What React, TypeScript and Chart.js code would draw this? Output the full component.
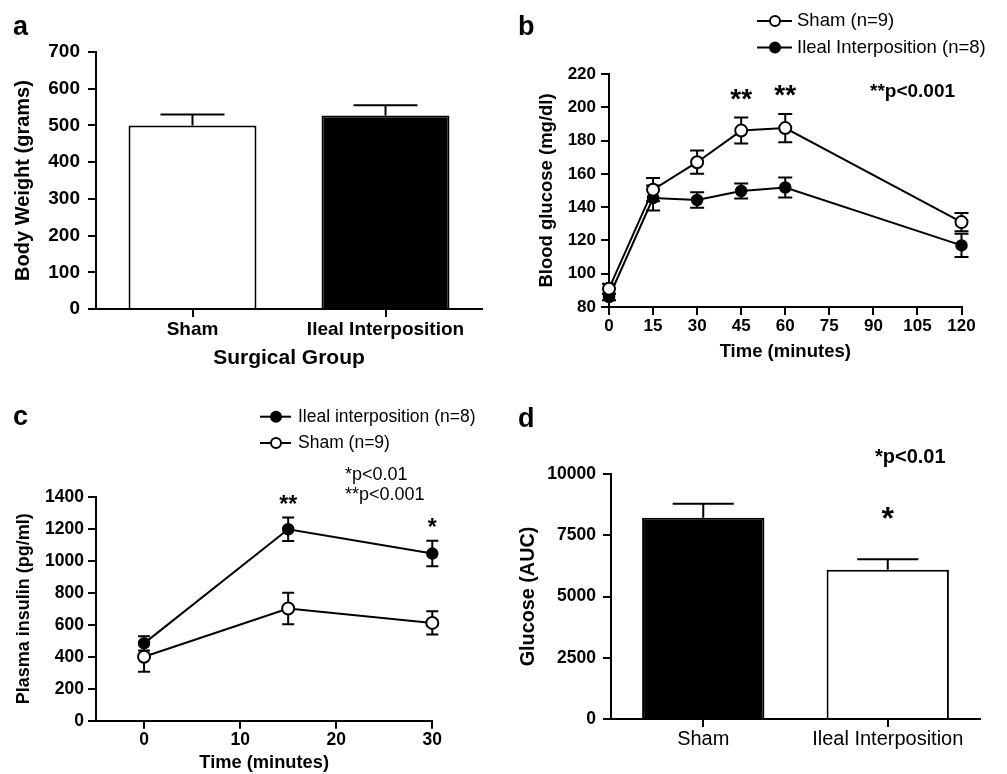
import { useEffect, useRef } from "react";
import { Chart, registerables } from "chart.js";
Chart.register(...registerables);

const FONT = "'Liberation Sans', Arial, Helvetica, sans-serif";

// ---- Panel a: body weight ----
const weightGroups = ["Sham", "Ileal Interposition"];
const weightValues = [500, 527];
const weightErrors = [30, 28];
const weightTicks = [0, 100, 200, 300, 400, 500, 600, 700];

// ---- Panel b: blood glucose ----
const glucoseTimes = [0, 15, 30, 45, 60, 120];
const glucoseSham = [91, 150.5, 167, 186, 187.5, 131];
const glucoseShamErr = [3, 7, 7, 7.8, 8.5, 5.5];
const glucoseIleal = [86, 145.5, 144.3, 149.7, 151.8, 117];
const glucoseIlealErr = [2, 7.5, 4.6, 4.5, 6, 7];
const glucoseStars = ["", "", "", "**", "**", ""];
const glucoseXTicks = [0, 15, 30, 45, 60, 75, 90, 105, 120];
const glucoseYTicks = [80, 100, 120, 140, 160, 180, 200, 220];

// ---- Panel c: plasma insulin ----
const insulinTimes = [0, 15, 30];
const insulinIleal = [484, 1198, 1046];
const insulinIlealErr = [45, 73, 80];
const insulinSham = [400, 702, 612];
const insulinShamErr = [94, 99, 73];
const insulinStars = ["", "**", "*"];
const insulinXTicks = [0, 10, 20, 30];
const insulinYTicks = [0, 200, 400, 600, 800, 1000, 1200, 1400];

// ---- Panel d: glucose AUC ----
const aucGroups = ["Sham", "Ileal Interposition"];
const aucValues = [8216, 6094];
const aucErrors = [572, 424];
const aucStars = ["", "*"];
const aucTicks = [0, 2500, 5000, 7500, 10000];

function drawErrors(chart: any) {
  const ctx = chart.ctx;
  chart.data.datasets.forEach((ds: any, i: number) => {
    if (!ds.errors) return;
    const meta = chart.getDatasetMeta(i);
    const yScale = chart.scales[meta.yAxisID];
    meta.data.forEach((el: any, j: number) => {
      const raw = ds.data[j];
      const v = typeof raw === "number" ? raw : raw.y;
      const e = ds.errors[j];
      const top = yScale.getPixelForValue(v + e);
      const bot = ds.errorUpOnly ? yScale.getPixelForValue(v) : yScale.getPixelForValue(v - e);
      const half = ds.capHalf != null ? ds.capHalf : el.width / 4;
      ctx.save();
      ctx.strokeStyle = "#000";
      ctx.lineWidth = 2;
      ctx.beginPath();
      ctx.moveTo(el.x, top);
      ctx.lineTo(el.x, bot);
      ctx.moveTo(el.x - half, top);
      ctx.lineTo(el.x + half, top);
      if (!ds.errorUpOnly) {
        ctx.moveTo(el.x - half, bot);
        ctx.lineTo(el.x + half, bot);
      }
      ctx.stroke();
      ctx.restore();
    });
  });
}

const errorBarsPlugin = {
  id: "errorBars",
  beforeDatasetsDraw(chart: any, _a: any, opts: any) {
    if (opts.before) drawErrors(chart);
  },
  afterDatasetsDraw(chart: any, _a: any, opts: any) {
    if (!opts.before) drawErrors(chart);
  },
};

const starPlugin = {
  id: "stars",
  afterDatasetsDraw(chart: any, _a: any, opts: any) {
    if (!opts.labels) return;
    const ctx = chart.ctx;
    const ds = chart.data.datasets[opts.datasetIndex];
    const meta = chart.getDatasetMeta(opts.datasetIndex);
    const yScale = chart.scales[meta.yAxisID];
    opts.labels.forEach((lab: string, j: number) => {
      if (!lab) return;
      const raw = ds.data[j];
      const v = typeof raw === "number" ? raw : raw.y;
      const top = yScale.getPixelForValue(v + ds.errors[j]);
      ctx.save();
      ctx.fillStyle = "#000";
      ctx.font = `bold ${opts.size}px ${FONT}`;
      ctx.textAlign = "center";
      ctx.textBaseline = "alphabetic";
      ctx.fillText(lab, meta.data[j].x, top - opts.offset);
      ctx.restore();
    });
  },
};

const textPlugin = {
  id: "texts",
  afterDraw(chart: any, _a: any, opts: any) {
    const ctx = chart.ctx;
    (opts.items || []).forEach((it: any) => {
      ctx.save();
      ctx.fillStyle = "#000";
      ctx.font = `${it.weight || "normal"} ${it.size}px ${FONT}`;
      ctx.textAlign = "left";
      ctx.textBaseline = "alphabetic";
      ctx.fillText(it.text, it.x, it.y);
      ctx.restore();
    });
  },
};

const legendPlugin = {
  id: "lineLegend",
  afterDraw(chart: any, _a: any, opts: any) {
    if (!opts.rows) return;
    const ctx = chart.ctx;
    opts.rows.forEach((row: any) => {
      const ds = chart.data.datasets[row.datasetIndex];
      ctx.save();
      ctx.strokeStyle = "#000";
      ctx.lineWidth = 2;
      ctx.beginPath();
      ctx.moveTo(opts.x1, row.y);
      ctx.lineTo(opts.x2, row.y);
      ctx.stroke();
      ctx.beginPath();
      ctx.arc(opts.xm, row.y, opts.r, 0, Math.PI * 2);
      ctx.fillStyle = ds.pointBackgroundColor;
      ctx.fill();
      ctx.lineWidth = 2;
      ctx.stroke();
      ctx.fillStyle = "#000";
      ctx.font = `${opts.size}px ${FONT}`;
      ctx.textAlign = "left";
      ctx.textBaseline = "middle";
      ctx.fillText(ds.label, opts.xt, row.y);
      ctx.restore();
    });
  },
};

const PLUGINS = [errorBarsPlugin, starPlugin, textPlugin, legendPlugin];

function axisGrid() {
  return {
    display: true,
    drawOnChartArea: false,
    drawTicks: true,
    tickLength: 8,
    color: "#000",
    lineWidth: 2,
  };
}
const axisBorder = { display: true, color: "#000", width: 2 };

function fixedTicks(values: number[]) {
  return (s: any) => {
    s.ticks = values.map((v) => ({ value: v }));
  };
}
const plainNumber = (v: any) => String(v);

function configA() {
  return {
    type: "bar",
    data: {
      labels: weightGroups,
      datasets: [
        {
          data: weightValues,
          errors: weightErrors,
          errorUpOnly: true,
          backgroundColor: ["#ffffff", "#000000"],
          borderColor: "#000",
          borderWidth: 2,
          borderSkipped: "start",
          barPercentage: 0.663,
          categoryPercentage: 1,
        },
      ],
    },
    options: {
      animation: false,
      responsive: false,
      devicePixelRatio: 1,
      layout: { padding: { left: 0, top: 52, right: 21, bottom: 0 } },
      scales: {
        x: {
          offset: true,
          grid: { ...axisGrid(), offset: false },
          border: axisBorder,
          afterFit: (s: any) => { s.height = 78; },
          ticks: { color: "#000", padding: 1, font: { family: FONT, size: 19, weight: "bold" } },
          title: {
            display: true, text: "Surgical Group", color: "#000",
            font: { family: FONT, size: 21, weight: "bold" }, padding: { top: 0, bottom: 16 },
          },
        },
        y: {
          min: 0, max: 700,
          grid: axisGrid(),
          border: axisBorder,
          afterFit: (s: any) => { s.width = 96; },
          afterBuildTicks: fixedTicks(weightTicks),
          ticks: { color: "#000", padding: 8, callback: plainNumber, font: { family: FONT, size: 19, weight: "bold" } },
          title: {
            display: true, text: "Body Weight (grams)", color: "#000",
            font: { family: FONT, size: 20, weight: "bold" }, padding: { top: 11, bottom: 0 },
          },
        },
      },
      plugins: {
        legend: { display: false },
        tooltip: { enabled: false },
        errorBars: { before: false },
        texts: { items: [{ text: "a", x: 13, y: 35, size: 27, weight: "bold" }] },
      },
    },
    plugins: PLUGINS,
  };
}

function configB() {
  return {
    type: "line",
    data: {
      datasets: [
        {
          label: "Sham (n=9)",
          data: glucoseTimes.map((t, i) => ({ x: t, y: glucoseSham[i] })),
          errors: glucoseShamErr,
          capHalf: 7,
          borderColor: "#000",
          borderWidth: 2,
          pointRadius: 6,
          pointBorderWidth: 2,
          pointBackgroundColor: "#ffffff",
          pointBorderColor: "#000",
          tension: 0,
          clip: false,
          order: 0,
        },
        {
          label: "Ileal Interposition (n=8)",
          data: glucoseTimes.map((t, i) => ({ x: t, y: glucoseIleal[i] })),
          errors: glucoseIlealErr,
          capHalf: 7,
          borderColor: "#000",
          borderWidth: 2,
          pointRadius: 5.5,
          pointBorderWidth: 1.5,
          pointBackgroundColor: "#000000",
          pointBorderColor: "#000",
          tension: 0,
          clip: false,
          order: 1,
        },
      ],
    },
    options: {
      animation: false,
      responsive: false,
      devicePixelRatio: 1,
      layout: { padding: { left: 0, top: 74, right: 45.5, bottom: 0 } },
      scales: {
        x: {
          type: "linear", min: 0, max: 120,
          grid: axisGrid(),
          border: axisBorder,
          afterFit: (s: any) => { s.height = 80; },
          afterBuildTicks: fixedTicks(glucoseXTicks),
          ticks: { color: "#000", padding: 1.5, autoSkip: false, maxRotation: 0, callback: plainNumber, font: { family: FONT, size: 17, weight: "bold" } },
          title: {
            display: true, text: "Time (minutes)", color: "#000",
            font: { family: FONT, size: 18.5, weight: "bold" }, padding: { top: 0, bottom: 24 },
          },
        },
        y: {
          min: 80, max: 220,
          grid: axisGrid(),
          border: axisBorder,
          afterFit: (s: any) => { s.width = 106; },
          afterBuildTicks: fixedTicks(glucoseYTicks),
          ticks: { color: "#000", padding: 5, callback: plainNumber, font: { family: FONT, size: 17, weight: "bold" } },
          title: {
            display: true, text: "Blood glucose (mg/dl)", color: "#000",
            font: { family: FONT, size: 18.5, weight: "bold" }, padding: { top: 32.5, bottom: 0 },
          },
        },
      },
      plugins: {
        legend: { display: false },
        tooltip: { enabled: false },
        errorBars: { before: true },
        stars: { labels: glucoseStars, datasetIndex: 0, offset: 10, size: 28 },
        lineLegend: {
          x1: 254, x2: 289, xm: 272, xt: 294, r: 5, size: 18.5,
          rows: [{ datasetIndex: 0, y: 21 }, { datasetIndex: 1, y: 47.5 }],
        },
        texts: {
          items: [
            { text: "b", x: 15, y: 35, size: 27, weight: "bold" },
            { text: "**p<0.001", x: 367, y: 97, size: 19, weight: "bold" },
          ],
        },
      },
    },
    plugins: PLUGINS,
  };
}

function configC() {
  return {
    type: "line",
    data: {
      datasets: [
        {
          label: "Ileal interposition (n=8)",
          data: insulinTimes.map((t, i) => ({ x: t, y: insulinIleal[i] })),
          errors: insulinIlealErr,
          capHalf: 6,
          borderColor: "#000",
          borderWidth: 2,
          pointRadius: 5.5,
          pointBorderWidth: 1.5,
          pointBackgroundColor: "#000000",
          pointBorderColor: "#000",
          tension: 0,
          clip: false,
          order: 0,
        },
        {
          label: "Sham (n=9)",
          data: insulinTimes.map((t, i) => ({ x: t, y: insulinSham[i] })),
          errors: insulinShamErr,
          capHalf: 6,
          borderColor: "#000",
          borderWidth: 2,
          pointRadius: 6,
          pointBorderWidth: 2,
          pointBackgroundColor: "#ffffff",
          pointBorderColor: "#000",
          tension: 0,
          clip: false,
          order: 1,
        },
      ],
    },
    options: {
      animation: false,
      responsive: false,
      devicePixelRatio: 1,
      layout: { padding: { left: 0, top: 110, right: 70.7, bottom: 0 } },
      scales: {
        x: {
          type: "linear", min: -5, max: 30,
          grid: axisGrid(),
          border: axisBorder,
          afterFit: (s: any) => { s.height = 53.3; },
          afterBuildTicks: fixedTicks(insulinXTicks),
          ticks: { color: "#000", padding: 1, autoSkip: false, maxRotation: 0, callback: plainNumber, font: { family: FONT, size: 17.5, weight: "bold" } },
          title: {
            display: true, text: "Time (minutes)", color: "#000",
            font: { family: FONT, size: 18.3, weight: "bold" }, padding: { top: 0, bottom: 0 },
          },
        },
        y: {
          min: 0, max: 1400,
          grid: axisGrid(),
          border: axisBorder,
          afterFit: (s: any) => { s.width = 96; },
          afterBuildTicks: fixedTicks(insulinYTicks),
          ticks: { color: "#000", padding: 4, callback: plainNumber, font: { family: FONT, size: 17.5, weight: "bold" } },
          title: {
            display: true, text: "Plasma insulin (pg/ml)", color: "#000",
            font: { family: FONT, size: 18, weight: "bold" }, padding: { top: 13, bottom: 0 },
          },
        },
      },
      plugins: {
        legend: { display: false },
        tooltip: { enabled: false },
        errorBars: { before: true },
        stars: { labels: insulinStars, datasetIndex: 0, offset: 6, size: 23 },
        lineLegend: {
          x1: 260, x2: 291, xm: 276, xt: 298, r: 5, size: 17.5,
          rows: [{ datasetIndex: 0, y: 29.7 }, { datasetIndex: 1, y: 56 }],
        },
        texts: {
          items: [
            { text: "c", x: 13, y: 38, size: 27, weight: "bold" },
            { text: "*p<0.01", x: 345, y: 93, size: 18 },
            { text: "**p<0.001", x: 345, y: 113, size: 18 },
          ],
        },
      },
    },
    plugins: PLUGINS,
  };
}

function configD() {
  return {
    type: "bar",
    data: {
      labels: aucGroups,
      datasets: [
        {
          data: aucValues,
          errors: aucErrors,
          errorUpOnly: true,
          backgroundColor: ["#000000", "#ffffff"],
          borderColor: "#000",
          borderWidth: 2,
          borderSkipped: "start",
          barPercentage: 0.663,
          categoryPercentage: 1,
        },
      ],
    },
    options: {
      animation: false,
      responsive: false,
      devicePixelRatio: 1,
      layout: { padding: { left: 0, top: 87, right: 27, bottom: 0 } },
      scales: {
        x: {
          offset: true,
          grid: { ...axisGrid(), offset: false },
          border: axisBorder,
          afterFit: (s: any) => { s.height = 55; },
          ticks: { color: "#000", padding: 0, font: { family: FONT, size: 20 } },
        },
        y: {
          min: 0, max: 10000,
          grid: axisGrid(),
          border: axisBorder,
          afterFit: (s: any) => { s.width = 108; },
          afterBuildTicks: fixedTicks(aucTicks),
          ticks: { color: "#000", padding: 7, callback: plainNumber, font: { family: FONT, size: 17.5, weight: "bold" } },
          title: {
            display: true, text: "Glucose (AUC)", color: "#000",
            font: { family: FONT, size: 19.8, weight: "bold" }, padding: { top: 13.4, bottom: 0 },
          },
        },
      },
      plugins: {
        legend: { display: false },
        tooltip: { enabled: false },
        errorBars: { before: false },
        stars: { labels: aucStars, datasetIndex: 0, offset: 30, size: 32 },
        texts: {
          items: [
            { text: "d", x: 15, y: 40, size: 27, weight: "bold" },
            { text: "*p<0.01", x: 372, y: 76, size: 20, weight: "bold" },
          ],
        },
      },
    },
    plugins: PLUGINS,
  };
}

function ChartCanvas(props: { make: () => any; left: number; top: number; width: number; height: number }) {
  const ref = useRef<HTMLCanvasElement>(null);
  useEffect(() => {
    const chart = new Chart(ref.current as HTMLCanvasElement, props.make() as any);
    return () => chart.destroy();
  }, []);
  return (
    <canvas
      ref={ref}
      width={props.width}
      height={props.height}
      style={{ position: "absolute", left: props.left, top: props.top, width: props.width, height: props.height }}
    />
  );
}

export default function App() {
  return (
    <div style={{ position: "absolute", left: 0, top: 0, width: 1007, height: 774, background: "#fff", overflow: "hidden" }}>
      <ChartCanvas make={configA} left={0} top={0} width={503} height={387} />
      <ChartCanvas make={configB} left={503} top={0} width={504} height={387} />
      <ChartCanvas make={configC} left={0} top={387} width={503} height={387} />
      <ChartCanvas make={configD} left={503} top={387} width={504} height={387} />
    </div>
  );
}
